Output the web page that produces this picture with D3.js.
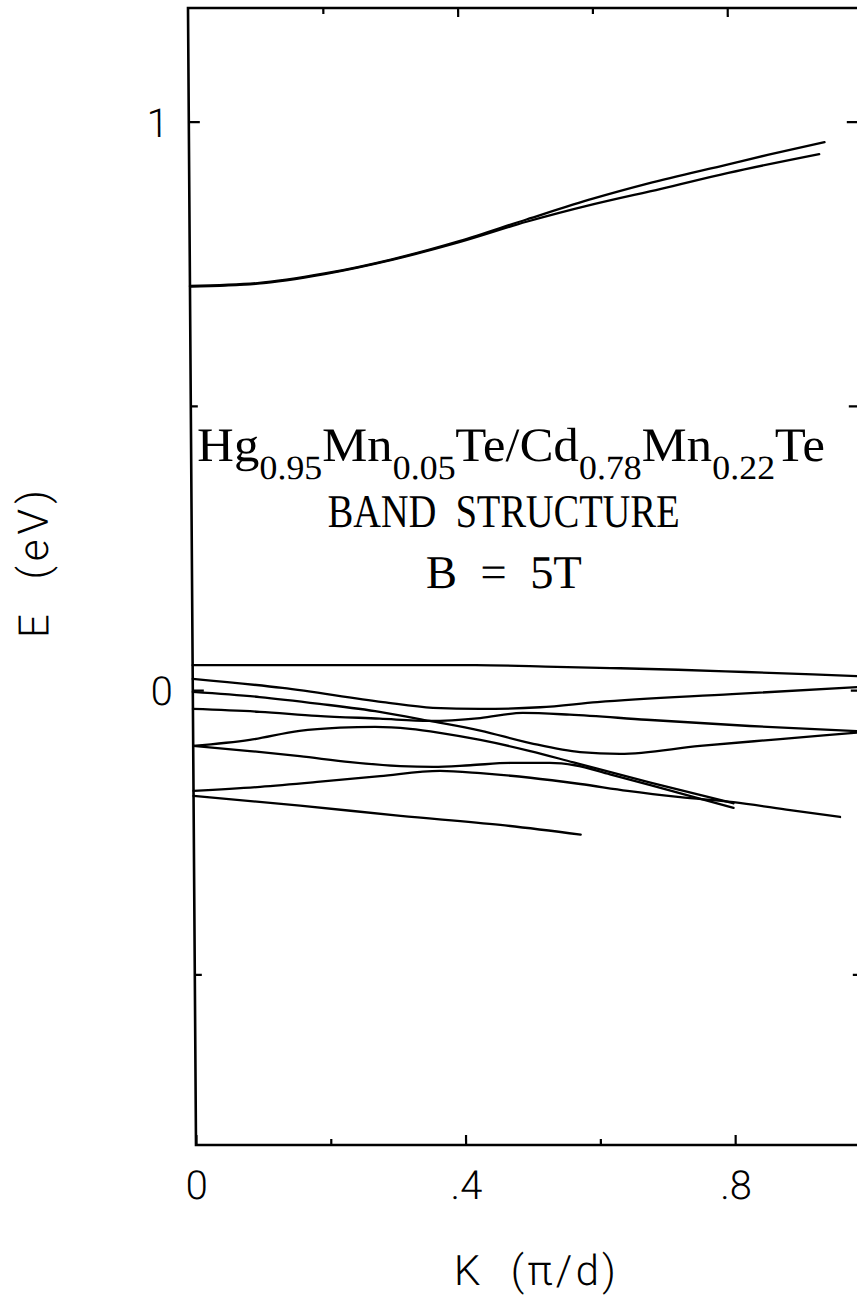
<!DOCTYPE html>
<html>
<head>
<meta charset="utf-8">
<script src="https://cdn.jsdelivr.net/npm/d3@7"></script>
<style>
  html, body { margin: 0; padding: 0; background: #fff; }
  svg { display: block; }
</style>
</head>
<body>
<svg id="chart" width="857" height="1300"></svg>
<script>
// Subband dispersions E(K) of the Hg0.95Mn0.05Te/Cd0.78Mn0.22Te superlattice at B = 5 T.
// K in units of pi/d, E in eV.  Each band is a list of [K, E] pairs.

// conduction subband pair (spin split)
const cbUpper = [[0, 0.711], [0.1, 0.716], [0.2, 0.733], [0.3, 0.758], [0.4, 0.790], [0.5, 0.828],
                 [0.6, 0.865], [0.68, 0.891], [0.8, 0.925], [0.86, 0.942], [0.943, 0.964]];
const cbLower = [[0, 0.710], [0.1, 0.715], [0.2, 0.732], [0.3, 0.757], [0.4, 0.788], [0.5, 0.824],
                 [0.6, 0.855], [0.7, 0.882], [0.8, 0.910], [0.935, 0.943]];

// valence-side subbands
const vbA = [[0, 0.044], [0.22, 0.044], [0.42, 0.044], [0.54, 0.041], [0.62, 0.039], [0.72, 0.036],
             [0.82, 0.032], [0.92, 0.028], [1.0, 0.024]];
const vbB = [[0, 0.020], [0.133, 0.004], [0.282, -0.021], [0.356, -0.031], [0.426, -0.033],
             [0.515, -0.030], [0.6, -0.021], [0.8, -0.007], [1.0, 0.0065]];
const vbC = [[0, -0.003], [0.099, -0.012], [0.188, -0.024], [0.277, -0.038], [0.351, -0.054],
             [0.426, -0.071], [0.5, -0.093], [0.574, -0.109], [0.633, -0.112], [0.752, -0.098],
             [0.871, -0.086], [1.0, -0.073]];
const vbD = [[0, -0.033], [0.099, -0.038], [0.184, -0.045], [0.277, -0.050], [0.351, -0.054],
             [0.426, -0.049], [0.489, -0.040], [0.559, -0.043], [0.673, -0.052], [0.826, -0.063],
             [1.0, -0.073]];
const vbE1 = [[0, -0.098], [0.084, -0.0875], [0.158, -0.0715], [0.218, -0.066], [0.27, -0.0645],
              [0.322, -0.068], [0.366, -0.075], [0.426, -0.0875], [0.5, -0.107], [0.564, -0.127],
              [0.678, -0.1625], [0.801, -0.199]];
const vbE2 = [[0, -0.098], [0.084, -0.107], [0.158, -0.116], [0.233, -0.1265], [0.307, -0.1336],
              [0.356, -0.135], [0.411, -0.132], [0.47, -0.128], [0.529, -0.128], [0.566, -0.132],
              [0.618, -0.148], [0.678, -0.167], [0.801, -0.207]];
const vbF = [[0, -0.177], [0.099, -0.170], [0.188, -0.161], [0.277, -0.151], [0.366, -0.142],
             [0.426, -0.146], [0.5, -0.154], [0.574, -0.165], [0.644, -0.177], [0.722, -0.188],
             [0.801, -0.197], [0.885, -0.211], [0.959, -0.223]];
const vbG = [[0, -0.186], [0.158, -0.203], [0.307, -0.221], [0.455, -0.237], [0.574, -0.254]];

const bands = [cbUpper, cbLower, vbA, vbB, vbC, vbD, vbE1, vbE2, vbF, vbG];

// axes: ticks and labels
const xDomain = [0, 1];
const yDomain = [-0.8, 1.2];
const xTicksMajor = [0, 0.4, 0.8];
const xTickLabels = ["0", ".4", ".8"];
const xTicksMinor = [0.2, 0.6];
const yTicksMajor = [0, 1];
const yTickLabels = ["0", "1"];
const yTicksMinor = [-0.5, 0.5];

const titleParts = [["Hg", false], ["0.95", true], ["Mn", false], ["0.05", true], ["Te/Cd", false],
                    ["0.78", true], ["Mn", false], ["0.22", true], ["Te", false]];
const subtitle = "BAND\u00A0\u00A0STRUCTURE";
const fieldLabel = "B\u00A0\u00A0=\u00A0\u00A05T";
const xTitle = "K\u00A0\u00A0(\u03C0/d)";
const yTitle = "E\u00A0\u00A0(eV)";

// ---------------------------------------------------------------------------
const plotLeft = 196, plotRight = 870, plotTop = 8, plotBottom = 1145;
const x = d3.scaleLinear().domain(xDomain).range([plotLeft, plotRight]);
const y = d3.scaleLinear().domain(yDomain).range([plotBottom, plotTop]);

const svg = d3.select("#chart");
const sansFont = "Roboto, 'Liberation Sans', sans-serif";
const serifFont = "'Liberation Serif', 'DejaVu Serif', serif";

// the whole sheet leans very slightly to the left towards the top
const lean = 0.403;
const root = svg.append("g")
  .attr("transform", `translate(0,${plotBottom}) skewX(${lean}) translate(0,${-plotBottom})`);

// frame
root.append("rect")
  .attr("x", x(xDomain[0])).attr("y", y(yDomain[1]))
  .attr("width", x(xDomain[1]) - x(xDomain[0]))
  .attr("height", y(yDomain[0]) - y(yDomain[1]))
  .attr("fill", "none").attr("stroke", "#000").attr("stroke-width", 2.6);

function styleAxis(g) {
  g.select(".domain").remove();
  g.selectAll(".tick line").attr("stroke", "#000").attr("stroke-width", 2.2);
  g.attr("font-family", sansFont).attr("font-size", 40).attr("font-weight", 300);
  g.selectAll(".tick text").attr("fill", "#000");
}

// bottom axis
root.append("g").attr("transform", `translate(0,${plotBottom})`)
  .call(d3.axisBottom(x).tickValues(xTicksMajor).tickSize(-10)
        .tickFormat((d, i) => xTickLabels[i]))
  .call(styleAxis)
  .call(g => g.selectAll(".tick text").attr("y", 54).attr("dy", 0));
root.append("g").attr("transform", `translate(0,${plotBottom})`)
  .call(d3.axisBottom(x).tickValues(xTicksMinor).tickSize(-6).tickFormat(""))
  .call(styleAxis);

// top axis
root.append("g").attr("transform", `translate(0,${plotTop})`)
  .call(d3.axisTop(x).tickValues([0.4, 0.8]).tickSize(-9).tickFormat(""))
  .call(styleAxis);
root.append("g").attr("transform", `translate(0,${plotTop})`)
  .call(d3.axisTop(x).tickValues(xTicksMinor).tickSize(-6).tickFormat(""))
  .call(styleAxis);

// left axis
root.append("g").attr("transform", `translate(${plotLeft},0)`)
  .call(d3.axisLeft(y).tickValues(yTicksMajor).tickSize(-11)
        .tickFormat((d, i) => yTickLabels[i]))
  .call(styleAxis)
  .call(g => g.selectAll(".tick text")
    .attr("x", -31).attr("text-anchor", "middle").attr("dy", "0.36em"));
root.append("g").attr("transform", `translate(${plotLeft},0)`)
  .call(d3.axisLeft(y).tickValues(yTicksMinor).tickSize(-7).tickFormat(""))
  .call(styleAxis);

// right axis (ticks point inward)
root.append("g").attr("transform", `translate(${plotRight},0)`)
  .call(d3.axisRight(y).tickValues(yTicksMajor.concat(yTicksMinor)).tickSize(-16).tickFormat(""))
  .call(styleAxis);

// bands
const line = d3.line()
  .x(d => x(d[0]))
  .y(d => y(d[1]))
  .curve(d3.curveMonotoneX);

root.append("g").selectAll("path")
  .data(bands)
  .join("path")
  .attr("d", line)
  .attr("fill", "none")
  .attr("stroke", "#000")
  .attr("stroke-width", 2.3)
  .attr("stroke-linecap", "round")
  .attr("stroke-linejoin", "round");

// centred text, stretched horizontally to a given width
function fitWidth(textSel, cx, width) {
  const w = textSel.node().getComputedTextLength();
  textSel.attr("transform", `translate(${cx},0) scale(${width / w},1) translate(${-cx},0)`);
}

// title with subscripts
const titleCx = 516;
const textCx = 508;
const title = root.append("text")
  .attr("x", titleCx).attr("y", 461)
  .attr("text-anchor", "middle")
  .attr("font-family", serifFont)
  .attr("font-size", 48)
  .attr("fill", "#000");
let lowered = false;
titleParts.forEach(([s, sub]) => {
  const t = title.append("tspan").text(s);
  if (sub && !lowered) { t.attr("dy", 18).attr("font-size", 34); lowered = true; }
  else if (sub) { t.attr("font-size", 34); }
  else if (lowered) { t.attr("dy", -18); lowered = false; }
});
fitWidth(title, titleCx, 628);

const sub1 = root.append("text")
  .attr("x", textCx).attr("y", 527)
  .attr("text-anchor", "middle")
  .attr("font-family", serifFont).attr("font-size", 47).attr("fill", "#000")
  .text(subtitle);
fitWidth(sub1, textCx, 352);

const sub2 = root.append("text")
  .attr("x", textCx).attr("y", 588)
  .attr("text-anchor", "middle")
  .attr("font-family", serifFont).attr("font-size", 47).attr("fill", "#000")
  .text(fieldLabel);
fitWidth(sub2, textCx, 156);

// axis titles
root.append("text")
  .attr("x", 453).attr("y", 1285)
  .attr("font-family", sansFont).attr("font-weight", 300).attr("font-size", 42)
  .attr("fill", "#000")
  .attr("textLength", 162).attr("lengthAdjust", "spacing")
  .text(xTitle);

root.append("text")
  .attr("transform", "translate(52,638) rotate(-90)")
  .attr("font-family", sansFont).attr("font-weight", 300).attr("font-size", 42)
  .attr("fill", "#000")
  .attr("textLength", 148).attr("lengthAdjust", "spacing")
  .text(yTitle);
</script>
</body>
</html>
